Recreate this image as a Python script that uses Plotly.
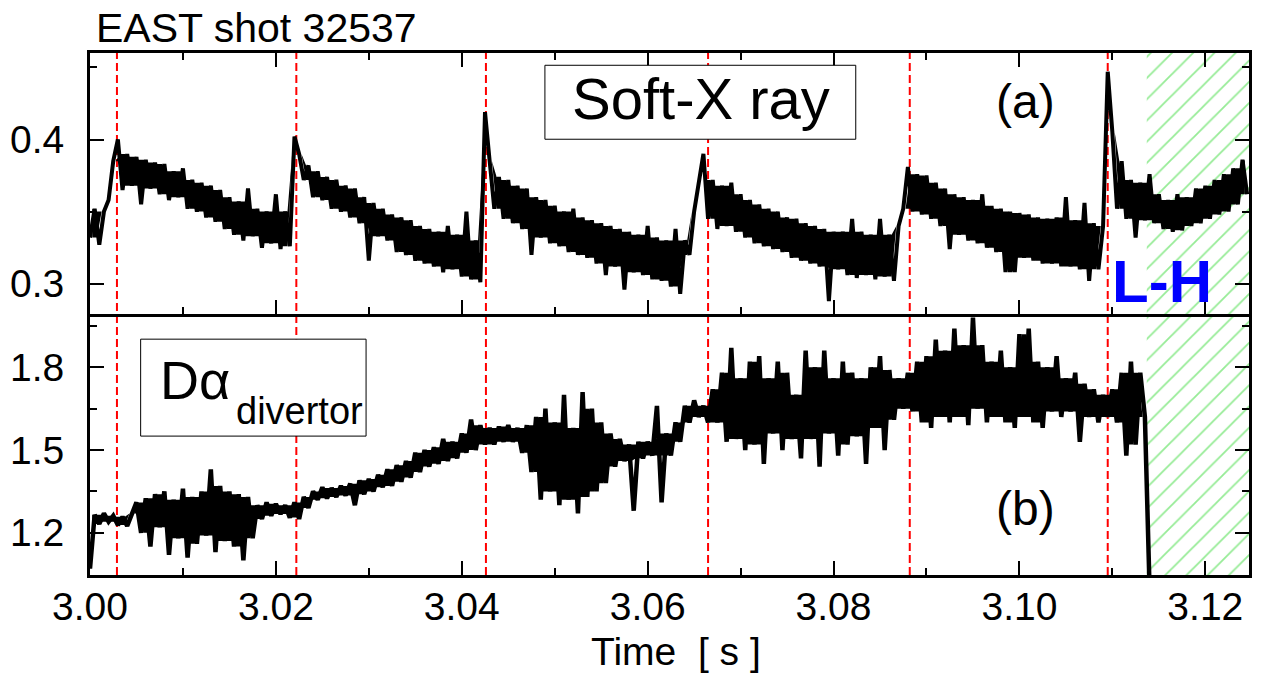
import numpy as np
import plotly.graph_objects as go

# ---------------- data ----------------
t_start = 3.0
t_step = 0.0005

# Soft-X ray signal (a), sampled every 0.5 ms from 3.000 s
sxr = [
    .332, .352, .327, .350, .358, .385, .400,
    .365, .390, .368, .388, .355, .386, .366, .384, .362, .383, .358, .378, .360, .380,
    .352, .372, .350, .370, .346, .368, .343, .365, .338, .360, .334, .357, .330, .366,
    .333, .352, .325, .350, .328, .362, .324, .350, .326,
    .402,
    .390, .372, .382, .360, .378, .358, .374, .352, .372, .350, .368, .346, .366, .342,
    .360, .316, .356, .333, .352, .330, .348, .322, .346, .320, .344, .316, .340, .314,
    .338, .312, .336, .308, .340, .310, .334, .305, .350, .303, .330, .301,
    .419,
    .385, .352, .374, .345, .372, .342, .368, .338, .366, .320, .360, .332, .358, .328,
    .354, .326, .350, .322, .352, .320, .346, .318, .344, .314, .342, .306, .340, .312,
    .338, .296, .336, .308, .334, .306, .340, .303, .332, .302, .330, .298, .338, .293,
    .330, .320, .350, .372,
    .390,
    .345, .372, .338, .368, .340, .370, .336, .362, .332, .358, .328, .355, .326, .352,
    .324, .350, .322, .346, .318, .345, .316, .342, .314, .340, .312, .338, .288, .336,
    .310, .336, .306, .345, .304, .336, .306, .334, .303, .345, .305, .334, .302, .340,
    .352,
    .381,
    .350, .376, .348, .375, .345, .370, .340, .366, .324, .362, .334, .360, .330, .358,
    .328, .362, .325, .354, .322, .352, .308, .350, .308, .349, .318, .348, .316, .346,
    .314, .345, .314, .346, .312, .360, .312, .344, .310, .356, .302, .342, .310, .340,
    .447,
    .405, .352, .385, .345, .372, .332, .370, .344, .376, .342, .362, .338, .358, .336,
    .362, .337, .360, .340, .366, .342, .368, .345, .372, .348, .376, .350, .380, .355,
    .386, .362,
]

# D-alpha divertor signal (b), sampled every 0.5 ms from 3.000 s
dalpha = [
    1.070, 1.265, 1.232, 1.270, 1.240, 1.262, 1.228, 1.258, 1.225, 1.270,
    1.310, 1.200, 1.325, 1.150, 1.340, 1.220, 1.350, 1.120, 1.320, 1.180,
    1.360, 1.110, 1.330, 1.160, 1.350, 1.190, 1.430, 1.130, 1.370, 1.170,
    1.350, 1.150, 1.340, 1.100, 1.330, 1.180, 1.300, 1.250, 1.310, 1.262,
    1.305, 1.268, 1.300, 1.255, 1.310, 1.250, 1.330, 1.290, 1.350, 1.320,
    1.365, 1.325, 1.362, 1.330, 1.370, 1.335, 1.378, 1.300, 1.390, 1.340,
    1.395, 1.350, 1.410, 1.365, 1.430, 1.370, 1.445, 1.385, 1.460, 1.400,
    1.490, 1.420, 1.500, 1.440, 1.510, 1.450, 1.540, 1.460, 1.530, 1.470,
    1.560, 1.490, 1.610, 1.500, 1.590, 1.520, 1.580, 1.520, 1.585, 1.530,
    1.590, 1.530, 1.580, 1.490, 1.590,
    1.420, 1.620, 1.320, 1.650, 1.350, 1.600, 1.300, 1.700, 1.320, 1.580,
    1.270, 1.710, 1.330, 1.650, 1.350, 1.600, 1.380, 1.560, 1.440, 1.540,
    1.460, 1.520, 1.280, 1.530, 1.470, 1.530, 1.480, 1.660, 1.310, 1.560,
    1.480, 1.600, 1.530, 1.660, 1.600, 1.680, 1.620, 1.660, 1.600, 1.720,
    1.600,
    1.780, 1.530, 1.870, 1.540, 1.760, 1.500, 1.820, 1.520, 1.840, 1.450,
    1.760, 1.560, 1.820, 1.500, 1.780, 1.540, 1.700, 1.470, 1.860, 1.540,
    1.800, 1.440, 1.860, 1.560, 1.760, 1.480, 1.820, 1.520, 1.780, 1.550,
    1.760, 1.450, 1.800, 1.580, 1.840, 1.500, 1.790, 1.610, 1.760, 1.650,
    1.780, 1.640,
    1.820, 1.600, 1.840, 1.580, 1.900, 1.620, 1.860, 1.600, 1.940, 1.620,
    1.880, 1.590, 1.980, 1.650, 1.880, 1.600, 1.820, 1.620, 1.860, 1.600,
    1.800, 1.580, 1.920, 1.620, 1.940, 1.600, 1.820, 1.580, 1.800, 1.640,
    1.840, 1.620, 1.760, 1.640, 1.780, 1.530, 1.740, 1.620, 1.720, 1.600,
    1.700, 1.620, 1.720, 1.600, 1.780, 1.480, 1.820, 1.520, 1.780, 1.620,
    1.000,
]

crash_times = [3.0029, 3.0222, 3.0426, 3.0665, 3.0882, 3.1095]
lh_time = 3.1137
x_range = [3.0, 3.1247]
sxr_range = [0.279, 0.460]
da_range = [1.047, 1.993]

x_title = "Time  [ s ]"
shot_label = "EAST shot 32537"

# ---------------- figure ----------------
FONT = "Liberation Sans, Arial, sans-serif"


def sample_times(vals):
    return np.round(t_start + t_step * np.arange(len(vals)), 4)


def core_band(vals):
    """Solid core of the dense trace: the range every drawn segment and its
    neighbours share (spikes are left to the line itself)."""
    v = np.asarray(vals, dtype=float)
    t = sample_times(vals)
    tm = t[:-1] + t_step / 2
    hi = np.maximum(v[:-1], v[1:])
    lo = np.minimum(v[:-1], v[1:])
    hp = np.pad(hi, 1, mode="edge")
    lp = np.pad(lo, 1, mode="edge")
    c_hi = np.minimum(np.minimum(hp[:-2], hp[1:-1]), hp[2:])
    c_lo = np.maximum(np.maximum(lp[:-2], lp[1:-1]), lp[2:])
    c_hi = np.maximum(c_hi, c_lo)
    return tm, c_lo, c_hi


fig = go.Figure()

hatch = dict(shape="/", fgcolor="#2ed82e", bgcolor="rgba(0,0,0,0)", size=15, solidity=0.12)
hx = [lh_time, x_range[1], x_range[1], lh_time, lh_time]
for ya, yr in (("y2", sxr_range), ("y", da_range)):
    fig.add_trace(go.Scatter(x=hx, y=[yr[0], yr[0], yr[1], yr[1], yr[0]],
                             xaxis="x2" if ya == "y2" else "x", yaxis=ya,
                             fill="toself", fillcolor="rgba(0,0,0,0)", fillpattern=hatch,
                             mode="lines", line=dict(width=0), hoverinfo="skip", showlegend=False))

for vals, xa, ya, lw in ((sxr, "x2", "y2", 4.0), (dalpha, "x", "y", 4.5)):
    tm, c_lo, c_hi = core_band(vals)
    fig.add_trace(go.Scatter(x=tm, y=c_lo, xaxis=xa, yaxis=ya, mode="lines",
                             line=dict(color="black", width=0), hoverinfo="skip", showlegend=False))
    fig.add_trace(go.Scatter(x=tm, y=c_hi, xaxis=xa, yaxis=ya, mode="lines",
                             line=dict(color="black", width=0), fill="tonexty", fillcolor="black",
                             hoverinfo="skip", showlegend=False))
    fig.add_trace(go.Scatter(x=sample_times(vals), y=vals, xaxis=xa, yaxis=ya, mode="lines",
                             line=dict(color="black", width=lw), showlegend=False))

axis_common = dict(showline=True, linecolor="black", linewidth=3, ticks="inside",
                   ticklen=14, tickwidth=2, tickcolor="black", showgrid=False, zeroline=False,
                   tickfont=dict(family=FONT, size=39, color="black"))
minor_common = dict(ticks="inside", ticklen=7, tickwidth=2, tickcolor="black")

fig.update_layout(
    width=1262, height=678,
    margin=dict(l=85, r=10, t=53, b=103),
    paper_bgcolor="white", plot_bgcolor="white",
    showlegend=False,
    xaxis=dict(domain=[0, 1], anchor="y", range=x_range, tick0=3.0, dtick=0.02,
               tickformat=".2f", mirror=False, ticklabelstandoff=-5,
               minor=dict(dtick=0.01, **minor_common), **axis_common),
    xaxis2=dict(domain=[0, 1], anchor="y2", matches="x", range=x_range, tick0=3.0, dtick=0.02,
                showticklabels=False, mirror="ticks",
                minor=dict(dtick=0.01, **minor_common), **axis_common),
    yaxis=dict(domain=[0, 0.5], anchor="x", range=da_range, tick0=0, dtick=0.3,
               tickformat=".1f", mirror="ticks", ticklabelstandoff=15,
               minor=dict(dtick=0.15, **minor_common), **axis_common),
    yaxis2=dict(domain=[0.5, 1], anchor="x2", range=sxr_range, tick0=0, dtick=0.1,
                tickformat=".1f", mirror="ticks", ticklabelstandoff=15,
                minor=dict(dtick=0.05, **minor_common), **axis_common),
)

shapes = []
for tc in crash_times:
    shapes.append(dict(type="line", xref="x", yref="paper", x0=tc, x1=tc, y0=0, y1=1,
                       line=dict(color="red", width=2, dash="8px,4px"), layer="below"))
# label boxes
shapes.append(dict(type="rect", xref="paper", yref="paper", x0=0.3925, x1=0.6607, y0=0.8348, y1=0.9765,
                   line=dict(color="black", width=1), fillcolor="white", layer="above"))
shapes.append(dict(type="rect", xref="paper", yref="paper", x0=0.0437, x1=0.2382, y0=0.2661, y1=0.4518,
                   line=dict(color="black", width=1), fillcolor="white", layer="above"))
fig.update_layout(shapes=shapes)


def ann(text, x, y, size, color="black", xanchor="center", bold=False):
    return dict(text=("<b>%s</b>" % text) if bold else text, x=x, y=y, xref="paper", yref="paper",
                xanchor=xanchor, yanchor="middle", showarrow=False,
                font=dict(family=FONT, size=size, color=color))


fig.update_layout(annotations=[
    ann(shot_label, 0.0034, 1.0483, 41, xanchor="left"),
    ann("Soft-X ray", 0.527, 0.9133, 58),
    ann("(a)", 0.8072, 0.9075, 48),
    ann("(b)", 0.8072, 0.1283, 48),
    ann("L-H", 0.925, 0.562, 60, color="#0000ff", bold=True),
    ann("Dα", 0.0583, 0.3733, 54, xanchor="left"),
    ann("divertor", 0.1243, 0.3151, 38, xanchor="left"),
    ann(x_title, 0.5056, -0.1474, 39),
])

fig.write_html("out.html", config={"displayModeBar": False},
               post_script="document.body.style.margin='0px';")
